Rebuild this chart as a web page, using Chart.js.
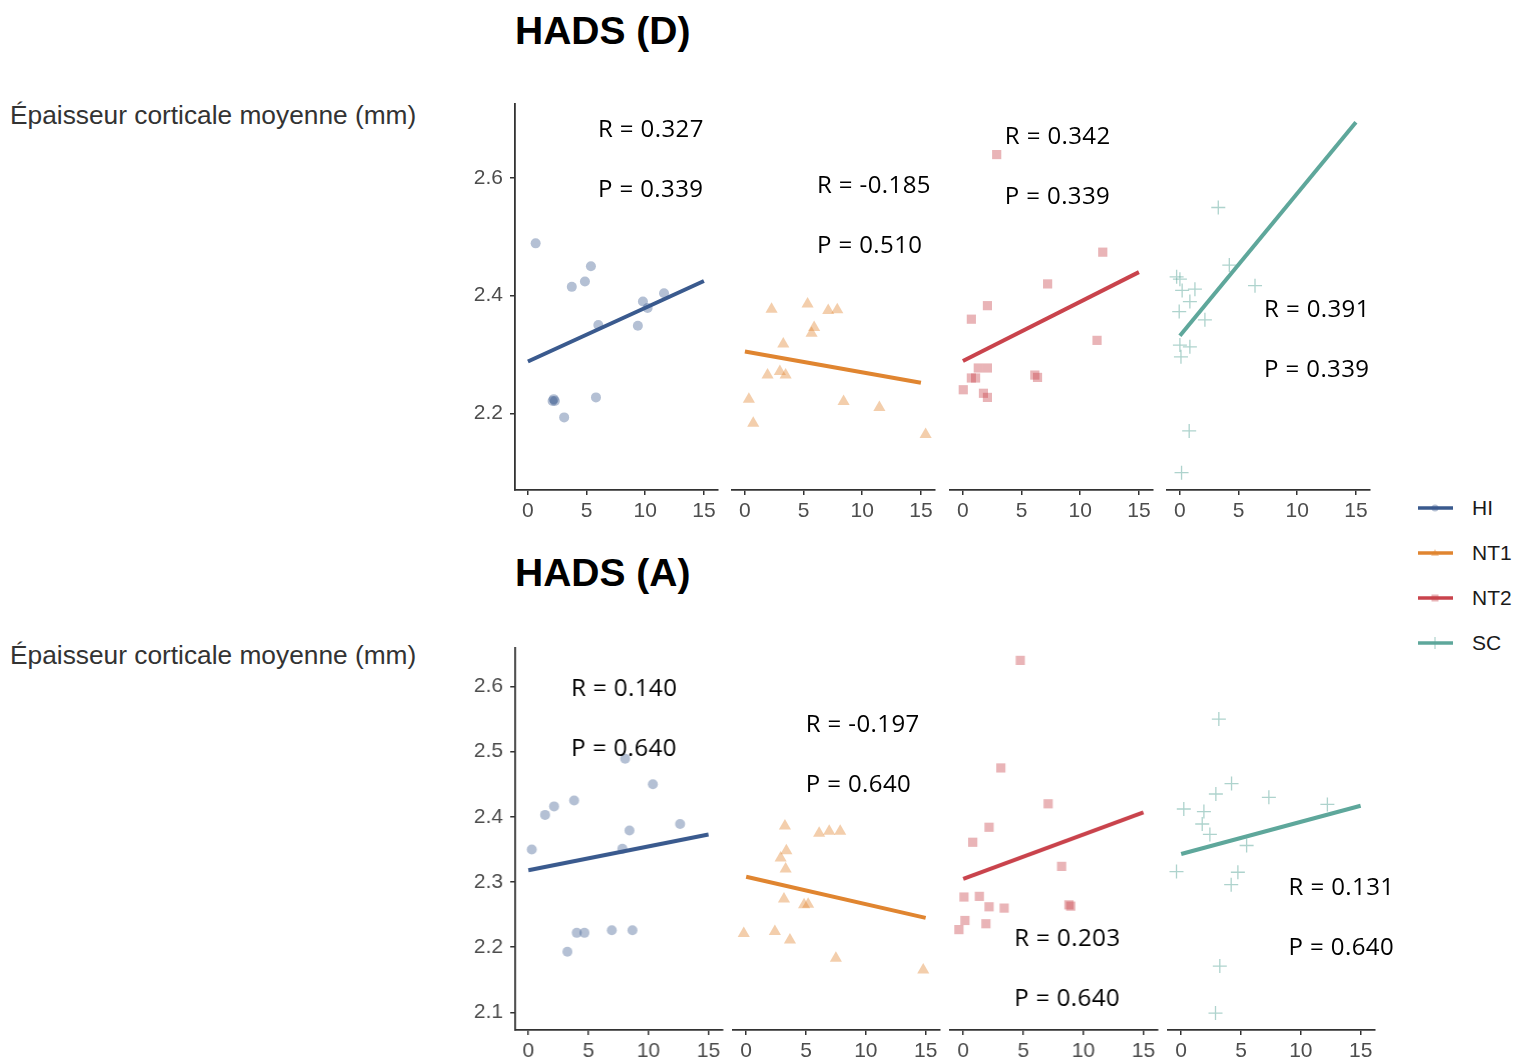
<!DOCTYPE html>
<html>
<head>
<meta charset="utf-8">
<title>HADS et épaisseur corticale</title>
<script src="https://cdn.jsdelivr.net/npm/chart.js@4.4.1/dist/chart.umd.min.js"></script>
<style>
  html, body { margin: 0; padding: 0; background: #fff; }
  body { width: 1535px; height: 1063px; position: relative; overflow: hidden;
         font-family: "Liberation Sans", Arial, sans-serif; }
  .title { position: absolute; left: 515px; font-weight: bold; font-size: 39px; color: #000; line-height: 40px; white-space: nowrap; }
  .ylab { position: absolute; left: 10px; font-size: 26.3px; color: #333; line-height: 26px; white-space: nowrap; }
  canvas { position: absolute; }
  .legend-item { position: absolute; left: 1416px; height: 30px; display: flex; align-items: center;
                 font-size: 21px; color: #1a1a1a; white-space: nowrap; }
  .legend-item svg { margin-right: 17px; }
</style>
</head>
<body>
<div class="title" style="top:11px">HADS (D)</div>
<div class="ylab" style="top:102px">Épaisseur corticale moyenne (mm)</div>
<div class="title" style="top:553px">HADS (A)</div>
<div class="ylab" style="top:642px">Épaisseur corticale moyenne (mm)</div>
<div id="legend"></div>

<script>
// ---- groups and axis ticks ----
const groups = ['HI', 'NT1', 'NT2', 'SC'];
const xTicks = [0, 5, 10, 15];
const yTicksD = [2.2, 2.4, 2.6];
const yTicksA = [2.1, 2.2, 2.3, 2.4, 2.5, 2.6];

// ---- HADS (D) score vs mean cortical thickness (mm) ----
const hiD_x  = [0.66, 5.37, 4.86, 3.74, 6.0, 9.8, 10.2, 11.6, 9.37, 2.1, 2.3, 2.2, 5.8, 3.09];
const hiD_y  = [2.489, 2.450, 2.424, 2.415, 2.350, 2.390, 2.379, 2.404, 2.349, 2.221, 2.221, 2.224, 2.227, 2.193];
const nt1D_x = [2.27, 5.34, 7.1, 7.87, 5.9, 5.68, 3.27, 1.93, 2.98, 3.47, 0.34, 0.71, 8.41, 11.46, 15.4];
const nt1D_y = [2.377, 2.386, 2.375, 2.376, 2.346, 2.336, 2.318, 2.265, 2.271, 2.265, 2.224, 2.183, 2.220, 2.210, 2.164];
const nt2D_x = [2.88, 11.92, 7.22, 2.09, 0.72, 11.43, 1.31, 2.09, 0.72, 1.08, 6.13, 6.36, 0.03, 1.75, 2.09];
const nt2D_y = [2.640, 2.474, 2.420, 2.383, 2.360, 2.324, 2.277, 2.277, 2.260, 2.260, 2.265, 2.261, 2.240, 2.234, 2.227];
const scD_x  = [3.27, 4.21, 6.4, -0.28, 0.0, 0.19, 1.28, 0.85, -0.06, 2.13, 0.0, 0.85, 0.09, 0.79, 0.14];
const scD_y  = [2.550, 2.452, 2.417, 2.432, 2.428, 2.409, 2.411, 2.390, 2.373, 2.359, 2.316, 2.313, 2.296, 2.170, 2.099];

// ---- HADS (A) score vs mean cortical thickness (mm) ----
const hiA_x  = [0.28, 1.39, 2.14, 3.81, 8.06, 10.37, 12.64, 8.42, 7.83, 4.03, 4.67, 6.95, 8.67, 3.25];
const hiA_y  = [2.350, 2.403, 2.416, 2.425, 2.489, 2.450, 2.389, 2.379, 2.351, 2.222, 2.222, 2.226, 2.226, 2.193];
const nt1A_x = [3.24, 6.1, 6.94, 7.86, 3.36, 2.88, 3.3, 3.16, 4.84, 5.18, -0.2, 2.4, 3.66, 7.5, 14.8];
const nt1A_y = [2.386, 2.375, 2.378, 2.378, 2.348, 2.337, 2.320, 2.274, 2.265, 2.266, 2.221, 2.224, 2.211, 2.183, 2.165];
const nt2A_x = [4.75, 3.13, 7.07, 2.15, 0.79, 8.19, 0.06, 1.34, 2.15, 3.41, 8.8, 8.95, 0.14, -0.36, 1.89];
const nt2A_y = [2.640, 2.475, 2.420, 2.384, 2.361, 2.324, 2.277, 2.278, 2.262, 2.260, 2.265, 2.263, 2.241, 2.227, 2.236];
const scA_x  = [3.15, 4.21, 2.9, 7.33, 12.22, 0.22, 1.9, 1.76, 2.4, 5.47, -0.39, 4.74, 4.18, 3.23, 2.87];
const scA_y  = [2.550, 2.451, 2.435, 2.430, 2.419, 2.412, 2.408, 2.389, 2.373, 2.356, 2.316, 2.315, 2.296, 2.171, 2.099];

// ---- linear fits: value at x = 0 and x = 15, per group ----
const fitX = [0, 15];
const fitD_start = [2.288, 2.305, 2.289, 2.332];
const fitD_end   = [2.425, 2.252, 2.440, 2.695];
const fitA_start = [2.318, 2.308, 2.305, 2.343];
const fitA_end   = [2.373, 2.245, 2.407, 2.417];

// ---- correlation statistics ----
const rD = ['0.327', '-0.185', '0.342', '0.391'];
const pD = ['0.339', '0.510', '0.339', '0.339'];
const rA = ['0.140', '-0.197', '0.203', '0.131'];
const pA = ['0.640', '0.640', '0.640', '0.640'];

// ---- styling ----
const lineColors  = ['#3a5a8e', '#e08530', '#c9434c', '#5ea79b'];
const pointColors = ['rgba(58,90,142,0.38)', 'rgba(224,133,48,0.40)', 'rgba(201,67,76,0.40)', 'rgba(94,167,155,0.50)'];
const pointStyles = ['circle', 'triangle', 'rect', 'cross'];
const pointRadii  = [5, 7, 6.5, 7];
const axisColor = '#333333';
const tickColor = '#4d4d4d';

// ---- layout of the two facet rows (pixels) and label anchors (data units) ----
const rowD = { top: 104, bottom: 490, lefts: [515, 732, 949.5, 1167], width: 203,
               xMin: -1.1, xMax: 16.2, yMin: 2.0695, yMax: 2.726, yTicks: yTicksD };
const rowA = { top: 648, bottom: 1030, lefts: [515, 732.5, 950, 1167.5], width: 207.6,
               xMin: -1.1, xMax: 16.2, yMin: 2.073, yMax: 2.659, yTicks: yTicksA };
const labelAnchorD = [[5.97, 2.682, 2.580], [6.14, 2.587, 2.485], [3.57, 2.670, 2.568], [7.17, 2.376, 2.274]];
const labelAnchorA = [[3.56, 2.596, 2.504], [4.98, 2.541, 2.449], [4.25, 2.213, 2.121], [8.98, 2.291, 2.199]];

const statLabels = {
  id: 'statLabels',
  afterDatasetsDraw(chart, args, opts) {
    const { ctx } = chart;
    const xs = chart.scales.x, ys = chart.scales.y;
    ctx.save();
    ctx.font = '24px "Open Sans", sans-serif';
    if ('letterSpacing' in ctx) ctx.letterSpacing = '0.4px';
    ctx.fillStyle = '#000';
    ctx.textAlign = 'left';
    ctx.textBaseline = 'middle';
    (opts.lines || []).forEach(l => {
      ctx.fillText(l.text, xs.getPixelForValue(l.x), ys.getPixelForValue(l.y));
    });
    ctx.restore();
  }
};

function toPoints(xs, ys) { return xs.map((v, i) => ({ x: v, y: ys[i] })); }

const Y_AXIS_W = 70, PAD_L = 12, PAD_T = 30, PAD_R = 70, X_AXIS_H = 45;

function makePanel(row, g, pts, fitStart, fitEnd, rText, pText, anchor) {
  const first = g === 0;
  const panelH = row.bottom - row.top;
  const leftSpace = first ? Y_AXIS_W : PAD_L;
  const canvas = document.createElement('canvas');
  const w = leftSpace + row.width + PAD_R;
  const h = PAD_T + panelH + X_AXIS_H;
  canvas.width = w; canvas.height = h;
  canvas.style.width = w + 'px'; canvas.style.height = h + 'px';
  canvas.style.left = (row.lefts[g] - leftSpace) + 'px';
  canvas.style.top = (row.top - PAD_T) + 'px';
  document.body.appendChild(canvas);

  const tickFont = { family: '"Liberation Sans", Arial, sans-serif', size: 21 };

  new Chart(canvas, {
    type: 'scatter',
    data: {
      datasets: [
        {
          type: 'line',
          data: [{ x: fitX[0], y: fitStart }, { x: fitX[1], y: fitEnd }],
          borderColor: lineColors[g],
          borderWidth: 4,
          pointRadius: 0,
          fill: false,
          tension: 0
        },
        {
          data: pts,
          pointStyle: pointStyles[g],
          pointRadius: pointRadii[g],
          backgroundColor: pointColors[g],
          borderColor: pointColors[g],
          borderWidth: g === 3 ? 1.3 : 0
        }
      ]
    },
    options: {
      responsive: false,
      animation: false,
      devicePixelRatio: 1,
      layout: { padding: { left: first ? 0 : PAD_L, right: PAD_R, top: PAD_T, bottom: 0 } },
      plugins: {
        legend: { display: false },
        tooltip: { enabled: false },
        statLabels: {
          lines: [
            { text: 'R = ' + rText, x: anchor[0], y: anchor[1] },
            { text: 'P = ' + pText, x: anchor[0], y: anchor[2] }
          ]
        }
      },
      scales: {
        x: {
          type: 'linear',
          min: row.xMin, max: row.xMax,
          afterBuildTicks: s => { s.ticks = xTicks.map(v => ({ value: v })); },
          afterFit: s => { s.height = X_AXIS_H; },
          grid: { display: true, drawOnChartArea: false, drawTicks: true, tickLength: 5, color: axisColor, lineWidth: 1.5 },
          border: { display: true, color: axisColor, width: 1.8 },
          ticks: { color: tickColor, font: tickFont, padding: 4, maxRotation: 0, autoSkip: false }
        },
        y: {
          type: 'linear',
          display: first,
          min: row.yMin, max: row.yMax,
          afterBuildTicks: s => { s.ticks = row.yTicks.map(v => ({ value: v })); },
          afterFit: s => { s.width = first ? Y_AXIS_W : 0; },
          grid: { display: true, drawOnChartArea: false, drawTicks: true, tickLength: 5, color: axisColor, lineWidth: 1.5 },
          border: { display: true, color: axisColor, width: 1.8 },
          ticks: { color: tickColor, font: tickFont, padding: 7, autoSkip: false,
                   callback: v => Number(v).toFixed(1) }
        }
      }
    },
    plugins: [statLabels]
  });
}

const dataD = [toPoints(hiD_x, hiD_y), toPoints(nt1D_x, nt1D_y), toPoints(nt2D_x, nt2D_y), toPoints(scD_x, scD_y)];
const dataA = [toPoints(hiA_x, hiA_y), toPoints(nt1A_x, nt1A_y), toPoints(nt2A_x, nt2A_y), toPoints(scA_x, scA_y)];

groups.forEach((name, g) => {
  makePanel(rowD, g, dataD[g], fitD_start[g], fitD_end[g], rD[g], pD[g], labelAnchorD[g]);
  makePanel(rowA, g, dataA[g], fitA_start[g], fitA_end[g], rA[g], pA[g], labelAnchorA[g]);
});

// ---- legend ----
const legendTops = [493, 538, 583, 628];
const legendMarkers = [
  c => `<circle cx="19" cy="10" r="3.5" fill="${c}"/>`,
  c => `<polygon points="19,6 23,13 15,13" fill="${c}"/>`,
  c => `<rect x="15.5" y="6.5" width="7" height="7" fill="${c}"/>`,
  c => `<path d="M19 4 V16 M13 10 H25" stroke="${c}" stroke-width="1.2"/>`
];
const legendHost = document.getElementById('legend');
groups.forEach((name, g) => {
  const item = document.createElement('div');
  item.className = 'legend-item';
  item.style.top = legendTops[g] + 'px';
  item.innerHTML =
    `<svg width="39" height="20" viewBox="0 0 39 20">` +
    `<line x1="2" y1="10" x2="37" y2="10" stroke="${lineColors[g]}" stroke-width="3.5"/>` +
    legendMarkers[g](pointColors[g]) +
    `</svg><span>${name}</span>`;
  legendHost.appendChild(item);
});
</script>
</body>
</html>
